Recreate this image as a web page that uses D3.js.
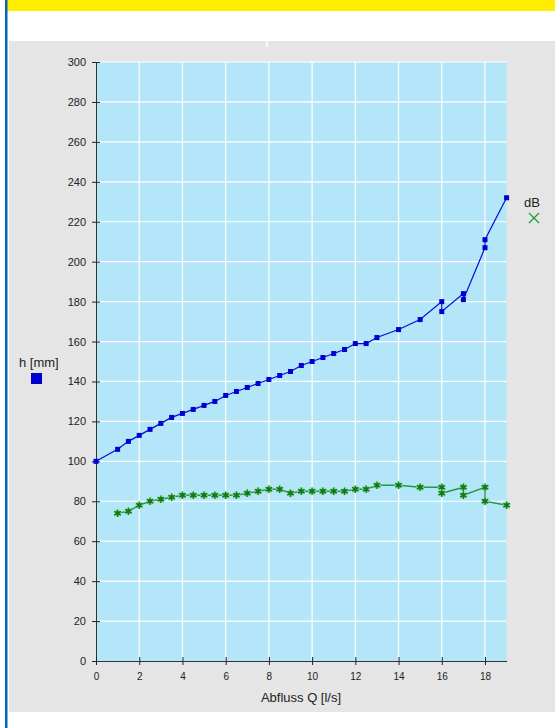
<!DOCTYPE html>
<html>
<head>
<meta charset="utf-8">
<script src="https://cdn.jsdelivr.net/npm/d3@7"></script>
<style>
  html, body { margin: 0; padding: 0; background: #fff; }
  svg { display: block; font-family: "Liberation Sans", Arial, Helvetica, sans-serif; }
</style>
</head>
<body>
<div id="graph"></div>
<script>
// Daten
const hQ = [0, 1, 1.5, 2, 2.5, 3, 3.5, 4, 4.5, 5, 5.5, 6, 6.5, 7, 7.5, 8, 8.5, 9, 9.5, 10,
            10.5, 11, 11.5, 12, 12.5, 13, 14, 15, 16, 16, 17, 17, 18, 18, 19];
const hValues = [100, 106, 110, 113, 116, 119, 122, 124, 126, 128, 130, 133, 135, 137, 139, 141, 143, 145, 148, 150,
                 152, 154, 156, 159, 159, 162, 166, 171, 180, 175, 184, 181, 207, 211, 232];
const dbQ = [1, 1.5, 2, 2.5, 3, 3.5, 4, 4.5, 5, 5.5, 6, 6.5, 7, 7.5, 8, 8.5, 9, 9.5, 10,
             10.5, 11, 11.5, 12, 12.5, 13, 14, 15, 16, 16, 17, 17, 18, 18, 19];
const dbValues = [74, 75, 78, 80, 81, 82, 83, 83, 83, 83, 83, 83, 84, 85, 86, 86, 84, 85, 85,
                  85, 85, 85, 86, 86, 88, 88, 87, 87, 84, 87, 83, 87, 80, 78];
const xTicks = [0, 2, 4, 6, 8, 10, 12, 14, 16, 18];
const yTicks = [0, 20, 40, 60, 80, 100, 120, 140, 160, 180, 200, 220, 240, 260, 280, 300];
const xTitle = "Abfluss Q [l/s]";
const hLabel = "h [mm]";
const dbLabel = "dB";

const width = 555, height = 728;
const svg = d3.select("#graph").append("svg").attr("width", width).attr("height", height);

// Rahmen / Hintergrund
svg.append("rect").attr("x", 0).attr("y", 0).attr("width", width).attr("height", height).attr("fill", "#fff");
svg.append("rect").attr("x", 7).attr("y", 0).attr("width", width - 7).attr("height", 11).attr("fill", "#ffee00");
svg.append("rect").attr("x", 9).attr("y", 41).attr("width", width - 9).attr("height", 671).attr("fill", "#e5e5e5");
svg.append("rect").attr("x", 5).attr("y", 0).attr("width", 2.5).attr("height", height).attr("fill", "#0068b4");
svg.append("rect").attr("x", 266).attr("y", 41).attr("width", 1.5).attr("height", 6).attr("fill", "#fff");

// Skalen
const x = d3.scaleLinear().domain([0, 19]).range([96, 506.6]);
const y = d3.scaleLinear().domain([0, 300]).range([661, 62]);

svg.append("rect")
  .attr("x", x(0)).attr("y", y(300))
  .attr("width", x(19) - x(0)).attr("height", y(0) - y(300))
  .attr("fill", "#b3e6f8");

// Gitter
svg.append("g").selectAll("line").data(yTicks.filter(d => d > 0)).enter().append("line")
  .attr("x1", x(0)).attr("x2", x(19))
  .attr("y1", d => y(d)).attr("y2", d => y(d))
  .attr("stroke", "#fff").attr("stroke-width", 1.2);
svg.append("g").selectAll("line").data(xTicks.filter(d => d > 0)).enter().append("line")
  .attr("x1", d => x(d)).attr("x2", d => x(d))
  .attr("y1", y(0)).attr("y2", y(300))
  .attr("stroke", "#fff").attr("stroke-width", 1.2);

// Achsen
const yAxis = svg.append("g").attr("transform", "translate(" + x(0) + ",0)")
  .call(d3.axisLeft(y).tickValues(yTicks).tickSizeInner(4).tickSizeOuter(0).tickPadding(6));
yAxis.select(".domain").attr("stroke", "#333");
yAxis.selectAll(".tick line").attr("x2", 4).attr("x1", -4).attr("stroke", "#222");
yAxis.selectAll("text").attr("font-size", "11px").attr("fill", "#222")
  .attr("font-family", "'Liberation Sans', Arial, sans-serif").attr("x", -10);

const xAxis = svg.append("g").attr("transform", "translate(0," + y(0) + ")")
  .call(d3.axisBottom(x).tickValues(xTicks).tickSizeInner(4).tickSizeOuter(0).tickPadding(8));
xAxis.select(".domain").attr("stroke", "#333");
xAxis.selectAll(".tick line").attr("y1", -4).attr("y2", 4).attr("stroke", "#222");
xAxis.selectAll("text").attr("font-size", "10px").attr("fill", "#222")
  .attr("font-family", "'Liberation Sans', Arial, sans-serif").attr("y", 12);

svg.append("text").attr("x", 301).attr("y", 702).attr("text-anchor", "middle")
  .attr("font-size", "13px").attr("fill", "#222").text(xTitle);

// Linie h
const hData = hQ.map((q, i) => ({ q: q, v: hValues[i] }));
const dbData = dbQ.map((q, i) => ({ q: q, v: dbValues[i] }));
const line = d3.line().x(d => x(d.q)).y(d => y(d.v));

svg.append("path").datum(hData).attr("d", line)
  .attr("fill", "none").attr("stroke", "#0a0adc").attr("stroke-width", 1.2);
svg.append("g").selectAll("rect").data(hData).enter().append("rect")
  .attr("x", d => x(d.q) - 2.5).attr("y", d => y(d.v) - 2.5)
  .attr("width", 5).attr("height", 5).attr("fill", "#0000d0");

// Linie dB
svg.append("path").datum(dbData).attr("d", line)
  .attr("fill", "none").attr("stroke", "#0c8a2c").attr("stroke-width", 1.4).attr("stroke-opacity", 0.85);
const star = d3.symbol().type(d3.symbolAsterisk).size(40);
const dbPts = svg.append("g").selectAll("g").data(dbData).enter().append("g")
  .attr("transform", d => "translate(" + x(d.q) + "," + y(d.v) + ")");
dbPts.append("circle").attr("r", 4).attr("fill", "#a6d8a0").attr("opacity", 0.7);
dbPts.append("path").attr("d", star).attr("fill", "none").attr("stroke", "#0a7d1e").attr("stroke-width", 1.3);
dbPts.append("rect").attr("x", -2).attr("y", -2).attr("width", 4).attr("height", 4).attr("fill", "#0a7d1e");

// Legenden
svg.append("text").attr("x", 19).attr("y", 367).attr("font-size", "13px").attr("fill", "#222").text(hLabel);
svg.append("rect").attr("x", 31).attr("y", 373).attr("width", 11).attr("height", 11).attr("fill", "#0000d0");

svg.append("text").attr("x", 524).attr("y", 207).attr("font-size", "13px").attr("fill", "#222").text(dbLabel);
svg.append("path").attr("d", "M529,213L539,223M539,213L529,223")
  .attr("stroke", "#1a9a3a").attr("stroke-width", 1.2);
</script>
</body>
</html>
